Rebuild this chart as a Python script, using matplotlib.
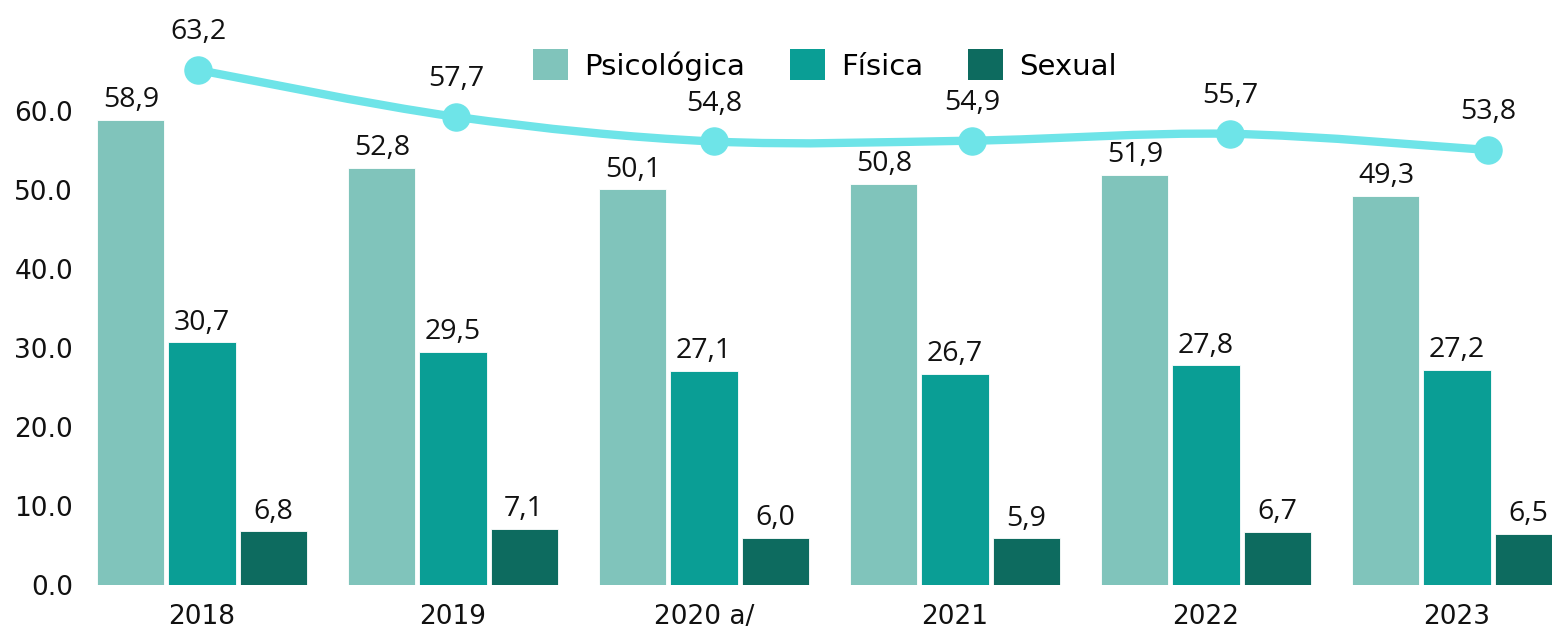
import numpy as np
import matplotlib
matplotlib.use("Agg")
import matplotlib.pyplot as plt
from matplotlib.path import Path
from matplotlib.patches import PathPatch, Patch

# Datos
anios = ["2018", "2019", "2020 a/", "2021", "2022", "2023"]
psicologica = [58.9, 52.8, 50.1, 50.8, 51.9, 49.3]
fisica = [30.7, 29.5, 27.1, 26.7, 27.8, 27.2]
sexual = [6.8, 7.1, 6.0, 5.9, 6.7, 6.5]
total = [63.2, 57.7, 54.8, 54.9, 55.7, 53.8]

series = ["Psicológica", "Física", "Sexual"]
colores = ["#80C4BB", "#0A9E95", "#0D6B5F"]
color_linea = "#6EE4E8"

W, H = 1552, 631
fig = plt.figure(figsize=(W / 100, H / 100), dpi=100)
pos = [80 / W, (H - 585) / H, (W - 80) / W, 565 / H]
ax = fig.add_axes(pos)

x = np.arange(len(anios))
ancho = 0.267
paso = 0.283
for k, (vals, c) in enumerate(zip([psicologica, fisica, sexual], colores)):
    xs = x + (k - 1) * paso
    ax.bar(xs, vals, width=ancho, color=c, edgecolor="white", linewidth=0.6)
    for xi, v in zip(xs, vals):
        ax.text(xi, v + 1.6, f"{v:.1f}".replace(".", ","), ha="center", va="baseline",
                fontsize=20.5, family="Open Sans", color="#111111")

ax.set_xlim((80 - 202) / 251, (W - 202) / 251)
ax.set_ylim(0, 565 / 7.90)
ax.set_yticks(np.arange(0, 61, 10))
ax.set_yticklabels([f"{t:.1f}" for t in np.arange(0, 61, 10)], fontsize=19, family="DejaVu Sans")
ax.set_xticks(x)
ax.set_xticklabels(anios, fontsize=19, family="DejaVu Sans")
ax.tick_params(axis="both", length=0, colors="#111111")
ax.tick_params(axis="x", pad=14)
ax.tick_params(axis="y", pad=5)
for s in ax.spines.values():
    s.set_visible(False)

# Linea total (eje secundario)
ax2 = fig.add_axes(pos)
ax2.patch.set_alpha(0)
ax2.set_xlim((80 - 198) / 258, (W - 198) / 258)
ax2.set_ylim(63.2 - 515 / 8.51, 63.2 + 50 / 8.51)
ax2.axis("off")

pts = np.column_stack([x, total]).astype(float)
ext = np.vstack([pts[0], pts, pts[-1]])
verts = [tuple(pts[0])]
codes = [Path.MOVETO]
for i in range(len(pts) - 1):
    p0, p1, p2, p3 = ext[i], ext[i + 1], ext[i + 2], ext[i + 3]
    c1 = p1 + (p2 - p0) / 6
    c2 = p2 - (p3 - p1) / 6
    verts += [tuple(c1), tuple(c2), tuple(p2)]
    codes += [Path.CURVE4] * 3
ax2.add_patch(PathPatch(Path(verts, codes), facecolor="none", edgecolor=color_linea,
                        linewidth=6, capstyle="round"))
ax2.plot(x, total, linestyle="none", marker="o", markersize=19.5, color=color_linea)
for xi, v in zip(x, total):
    ax2.text(xi, v + 3.6, f"{v:.1f}".replace(".", ","), ha="center", va="baseline",
             fontsize=20.5, family="Open Sans", color="#111111")

handles = [Patch(facecolor=c, edgecolor="none") for c in colores]
fig.legend(handles, series, loc="center", bbox_to_anchor=(825 / W, 1 - 65 / H), ncol=3,
           frameon=False, prop={"family": "DejaVu Sans", "size": 21},
           handlelength=1.2, handleheight=1.23, handletextpad=0.55, columnspacing=1.54)

fig.savefig("out.png", dpi=100)
